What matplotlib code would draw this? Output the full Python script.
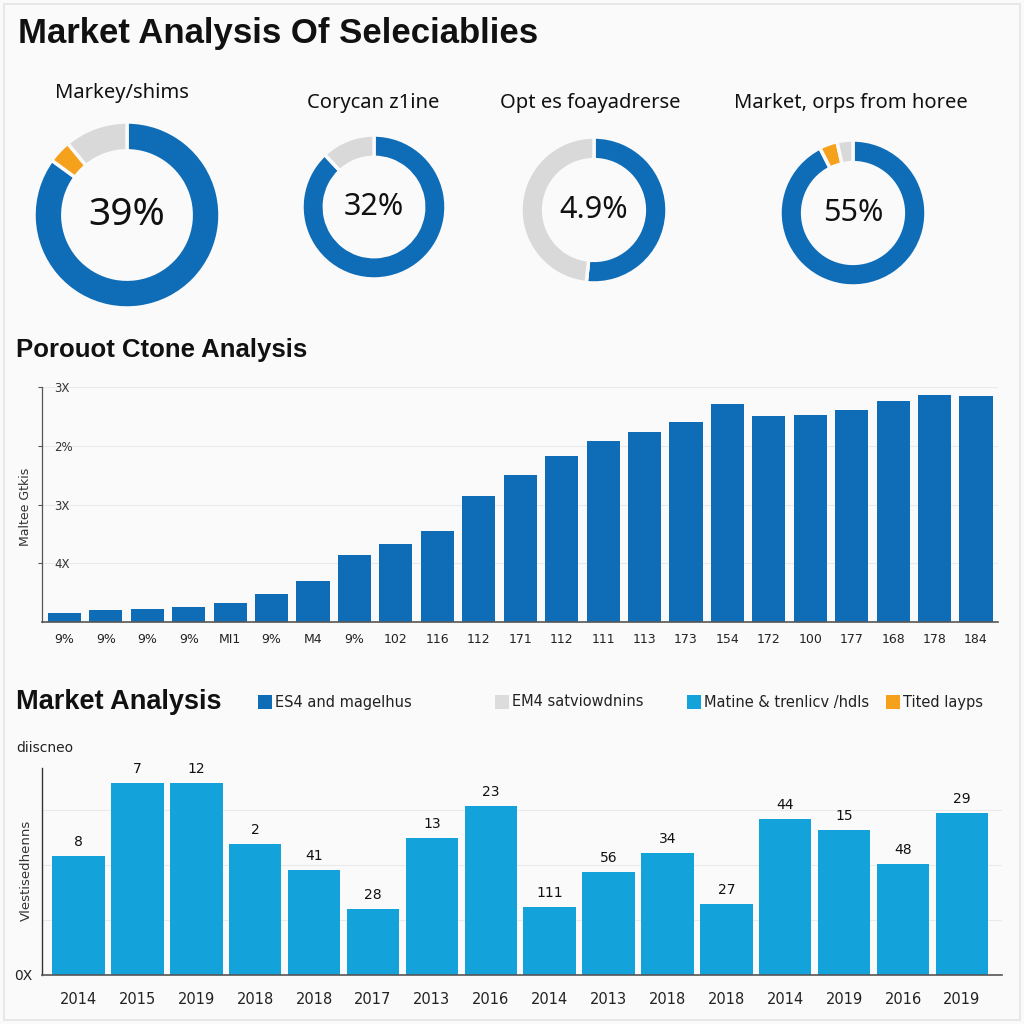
import numpy as np
import matplotlib
matplotlib.use("Agg")
import matplotlib.pyplot as plt
from matplotlib.patches import Rectangle

# --- data ---
TITLE = "Market Analysis Of Seleciablies"

donut_titles = ["Markey/shims", "Corycan z1ine", "Opt es foayadrerse", "Market, orps from horee"]
donut_labels = ["39%", "32%", "4.9%", "55%"]
# clockwise from 12 o'clock: blue, orange, gray
donut_blue = [85, 88, 51.7, 92.5]
donut_orange = [4, 0, 0, 4]
donut_gray = [11, 12, 48.3, 3.5]

mid_title = "Porouot Ctone Analysis"
mid_ylabel = "Maltee Gtkis"
mid_values = [9, 12, 13, 15, 19, 28, 41, 67, 78, 91, 126, 147, 166, 181,
              190, 200, 218, 206, 207, 212, 221, 227, 226]
mid_xlabels = ["9%", "9%", "9%", "9%", "MI1", "9%", "M4", "9%", "102", "116",
               "112", "171", "112", "111", "113", "173", "154", "172", "100",
               "177", "168", "178", "184"]
mid_yticks = [58.75, 117.5, 176.25, 235]
mid_yticklabels = ["4X", "3X", "2%", "3X"]

bot_title = "Market Analysis"
bot_ylabel = "Vlestisedhenns"
bot_toplabel = "diiscneo"
bot_values = [119, 192, 192, 131, 105, 66, 137, 169, 68, 103, 122, 71, 156, 145, 111, 162]
bot_barlabels = ["8", "7", "12", "2", "41", "28", "13", "23", "111", "56", "34",
                 "27", "44", "15", "48", "29"]
bot_xlabels = ["2014", "2015", "2019", "2018", "2018", "2017", "2013", "2016",
               "2014", "2013", "2018", "2018", "2014", "2019", "2016", "2019"]

legend_labels = ["ES4 and magelhus", "EM4 satviowdnins", "Matine & trenlicv /hdls", "Tited layps"]

# --- style ---
BLUE = "#0F6DB8"
LIGHT_BLUE = "#14A2DA"
GRAY = "#D9D9D9"
ORANGE = "#F5A11C"
BG = "#FAFAFA"
legend_colors = [BLUE, "#DCDCDC", LIGHT_BLUE, ORANGE]

W = H = 1024
NARROW = "DejaVu Sans"


def box(x0, y0, x1, y1):
    return [x0 / W, 1 - y1 / H, (x1 - x0) / W, (y1 - y0) / H]


fig = plt.figure(figsize=(10.24, 10.24), dpi=100, facecolor=BG)
fig.patches.append(Rectangle((0.004, 0.004), 0.992, 0.992, transform=fig.transFigure,
                             fill=False, edgecolor="#E4E4E4", linewidth=1.2))

fig.text(18 / W, 1 - 33 / H, TITLE, fontsize=25, fontweight="bold",
         family="Liberation Sans", va="center", ha="left", color="#111111")

# --- donuts ---
centers = [(127, 215, 93), (374, 207, 72), (594, 210, 73), (853, 213, 73)]
title_pos = [(122, 93), (373, 103), (590, 103), (851, 103)]
label_sizes = [28, 22, 22, 22]
for i, (cx, cy, r) in enumerate(centers):
    ax = fig.add_axes(box(cx - r, cy - r, cx + r, cy + r))
    vals = [donut_blue[i], donut_orange[i], donut_gray[i]]
    cols = [BLUE, ORANGE, GRAY]
    ax.pie(vals, colors=cols, startangle=90, counterclock=False, radius=1,
           wedgeprops=dict(width=0.31, edgecolor=BG, linewidth=2.5))
    ax.set_xlim(-1, 1)
    ax.set_ylim(-1, 1)
    ax.set_aspect("equal")
    ax.axis("off")
    ax.text(0, 0, donut_labels[i], ha="center", va="center",
            fontsize=label_sizes[i], family="Noto Sans", color="#111111")
    tx, ty = title_pos[i]
    fig.text(tx / W, 1 - ty / H, donut_titles[i], ha="center", va="center",
             fontsize=14.5, family="Noto Sans", color="#111111")

# --- middle bar chart ---
fig.text(16 / W, 1 - 350 / H, mid_title, fontsize=18.5, fontweight="bold",
         family="Liberation Sans", va="center", ha="left", color="#111111")
ax2 = fig.add_axes(box(42, 387, 998, 622), facecolor=BG)
x = np.arange(len(mid_values))
ax2.bar(x, mid_values, width=0.8, color=BLUE, zorder=2)
ax2.set_xlim(-0.54, len(mid_values) - 0.47)
ax2.set_ylim(0, 235)
ax2.set_yticks(mid_yticks)
ax2.set_yticklabels(mid_yticklabels, family=NARROW, fontsize=8.5, color="#333333")
for lab in ax2.get_yticklabels():
    lab.set_horizontalalignment("left")
ax2.tick_params(axis="y", length=3, width=0.8, color="#555555", pad=-12)
ax2.set_xticks(x)
ax2.set_xticklabels(mid_xlabels, family=NARROW, fontsize=9, color="#222222")
ax2.tick_params(axis="x", length=0, pad=8)
ax2.yaxis.grid(True, color="#EAEAEA", linewidth=0.8, zorder=0)
for s in ["top", "right"]:
    ax2.spines[s].set_visible(False)
ax2.spines["left"].set_color("#555555")
ax2.spines["left"].set_linewidth(0.9)
ax2.spines["bottom"].set_color("#555555")
ax2.spines["bottom"].set_linewidth(1.2)
fig.text(26 / W, 1 - 507 / H, mid_ylabel, rotation=90, ha="center", va="center",
         fontsize=9, family="DejaVu Sans", color="#333333")

# --- bottom bar chart ---
fig.text(16 / W, 1 - 702 / H, bot_title, fontsize=19.5, fontweight="bold",
         family="Liberation Sans", va="center", ha="left", color="#111111")
leg_x = [258, 495, 687, 886]
for lx, lab, col in zip(leg_x, legend_labels, legend_colors):
    fig.patches.append(Rectangle((lx / W, 1 - 709 / H), 14 / W, 14 / H,
                                 transform=fig.transFigure, facecolor=col, edgecolor="none"))
    fig.text((lx + 17) / W, 1 - 702 / H, lab, ha="left", va="center",
             fontsize=10.5, family=NARROW, color="#222222")
fig.text(16 / W, 1 - 748 / H, bot_toplabel, ha="left", va="center",
         fontsize=10, family=NARROW, color="#222222")

ax3 = fig.add_axes(box(42, 768, 1002, 975), facecolor=BG)
xb = np.arange(len(bot_values))
ax3.bar(xb, bot_values, width=0.89, color=LIGHT_BLUE, zorder=2)
for xi, v, lab in zip(xb, bot_values, bot_barlabels):
    ax3.text(xi, v + 7, lab, ha="center", va="bottom", fontsize=10,
             family=NARROW, color="#111111")
ax3.set_xlim(-0.62, len(bot_values) - 0.32)
ax3.set_ylim(0, 207)
ax3.set_yticks([0, 55, 110, 165])
ax3.set_yticklabels(["0X", "", "", ""], family=NARROW, fontsize=10, color="#222222")
ax3.tick_params(axis="y", length=0, pad=7)
ax3.set_xticks(xb)
ax3.set_xticklabels(bot_xlabels, family=NARROW, fontsize=10.5, color="#222222")
ax3.tick_params(axis="x", length=0, pad=12)
ax3.yaxis.grid(True, color="#EAEAEA", linewidth=0.8, zorder=0)
for s in ["top", "right"]:
    ax3.spines[s].set_visible(False)
ax3.spines["left"].set_color("#333333")
ax3.spines["left"].set_linewidth(1.0)
ax3.spines["bottom"].set_color("#555555")
ax3.spines["bottom"].set_linewidth(1.2)
fig.text(26 / W, 1 - 870 / H, bot_ylabel, rotation=90, ha="center", va="center",
         fontsize=9.5, family="DejaVu Sans", color="#333333")

fig.savefig("out.png", dpi=100, facecolor=BG)
